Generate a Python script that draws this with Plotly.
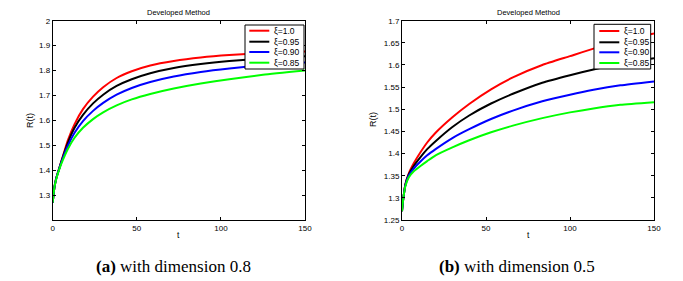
import plotly.graph_objects as go

# ---- data ----
t_a = [0, 1, 2, 4, 6, 9, 13, 18, 24, 30, 38, 47, 58, 72, 88, 105, 125, 150]
red_a = [1.27, 1.33, 1.365, 1.41, 1.455, 1.52, 1.585, 1.645, 1.695, 1.733, 1.77, 1.797, 1.82, 1.838, 1.852, 1.862, 1.870, 1.876]
black_a = [1.27, 1.33, 1.365, 1.41, 1.452, 1.51, 1.57, 1.622, 1.668, 1.703, 1.738, 1.765, 1.789, 1.81, 1.826, 1.838, 1.848, 1.857]
blue_a = [1.27, 1.33, 1.364, 1.408, 1.447, 1.498, 1.55, 1.597, 1.638, 1.670, 1.703, 1.73, 1.754, 1.776, 1.794, 1.808, 1.821, 1.832]
green_a = [1.27, 1.33, 1.362, 1.405, 1.44, 1.485, 1.53, 1.57, 1.605, 1.632, 1.66, 1.684, 1.706, 1.728, 1.748, 1.765, 1.783, 1.80]

t_b = [0, 0.5, 1, 2, 4, 7, 11, 15, 20, 30, 40, 53, 66, 83.5, 100, 114, 130, 150]
red_b = [1.27, 1.29, 1.305, 1.33, 1.355, 1.378, 1.403, 1.425, 1.447, 1.482, 1.512, 1.545, 1.572, 1.6, 1.62, 1.637, 1.654, 1.671]
black_b = [1.27, 1.29, 1.305, 1.33, 1.353, 1.372, 1.392, 1.41, 1.428, 1.46, 1.486, 1.513, 1.535, 1.56, 1.577, 1.59, 1.603, 1.615]
blue_b = [1.27, 1.29, 1.305, 1.328, 1.35, 1.366, 1.382, 1.396, 1.41, 1.435, 1.455, 1.478, 1.497, 1.518, 1.533, 1.544, 1.554, 1.563]
green_b = [1.27, 1.29, 1.305, 1.326, 1.346, 1.36, 1.372, 1.383, 1.396, 1.414, 1.43, 1.448, 1.463, 1.48, 1.493, 1.502, 1.51, 1.516]

series_names = ["ξ=1.0", "ξ=0.95", "ξ=0.90", "ξ=0.85"]
colors = ["#ff0000", "#000000", "#0000ff", "#00ff00"]

x_ticks = [0, 50, 100, 150]
ya_ticks = [1.3, 1.4, 1.5, 1.6, 1.7, 1.8, 1.9, 2.0]
ya_labels = ["1.3", "1.4", "1.5", "1.6", "1.7", "1.8", "1.9", "2"]
yb_ticks = [1.25, 1.3, 1.35, 1.4, 1.45, 1.5, 1.55, 1.6, 1.65, 1.7]
yb_labels = ["1.25", "1.3", "1.35", "1.4", "1.45", "1.5", "1.55", "1.6", "1.65", "1.7"]

title_text = "Developed Method"
captions = ["<b>(a)</b> with dimension 0.8", "<b>(b)</b> with dimension 0.5"]

# the page body has an 8px margin; size the figure so that it fits the window
OFF = 8
W, H = 683 - OFF, 281 - OFF
fig = go.Figure()

for ys, c, n in zip([red_a, black_a, blue_a, green_a], colors, series_names):
    fig.add_trace(go.Scatter(x=t_a, y=ys, mode="lines", name=n, xaxis="x", yaxis="y",
                             line=dict(color=c, width=2, shape="spline", smoothing=0.5),
                             showlegend=False))
for ys, c, n in zip([red_b, black_b, blue_b, green_b], colors, series_names):
    fig.add_trace(go.Scatter(x=t_b, y=ys, mode="lines", name=n, xaxis="x2", yaxis="y2",
                             line=dict(color=c, width=2, shape="spline", smoothing=0.5),
                             showlegend=False))

def px(x):
    return (x - OFF) / W

def py(y):
    return 1 - (y - OFF) / H

tickfont = dict(family="Liberation Sans, Arial", size=8, color="black")
common = dict(showline=True, linecolor="black", linewidth=1, mirror="ticks",
              ticks="inside", ticklen=3, tickcolor="black", tickwidth=1,
              showgrid=False, zeroline=False, tickfont=tickfont, automargin=False)

dom_y = [py(220), py(20.7)]
fig.update_layout(
    template="none",
    width=W, height=H, margin=dict(l=0, r=0, t=0, b=0, pad=0), autosize=False,
    paper_bgcolor="white", plot_bgcolor="white",
    xaxis=dict(domain=[px(52.7), px(305)], range=[0, 150], tickvals=x_ticks, anchor="y", **common),
    yaxis=dict(domain=dom_y, range=[1.2, 2.0], tickvals=ya_ticks, ticktext=ya_labels, anchor="x", **common),
    xaxis2=dict(domain=[px(402), px(654)], range=[0, 150], tickvals=x_ticks, anchor="y2", **common),
    yaxis2=dict(domain=dom_y, range=[1.25, 1.7], tickvals=yb_ticks, ticktext=yb_labels, anchor="x2", **common),
    showlegend=False,
)

ann = []
shapes = []
small = dict(family="Liberation Sans, Arial", size=8.5, color="black")
for cx, ry in [((52.7 + 305) / 2, 30), ((402 + 654) / 2, 373)]:
    ann.append(dict(x=px(cx), y=py(12.5), xref="paper", yref="paper", text=title_text,
                    xanchor="center", yanchor="middle",
                    showarrow=False, font=dict(family="Liberation Sans, Arial", size=7.5, color="black")))
    ann.append(dict(x=px(cx), y=py(235), xref="paper", yref="paper", text="t",
                    xanchor="center", yanchor="middle", showarrow=False, font=small))
    ann.append(dict(x=px(ry), y=py(120), xref="paper", yref="paper", text="R(t)", textangle=-90,
                    xanchor="center", yanchor="middle", showarrow=False,
                    font=dict(family="Liberation Sans, Arial", size=9, color="black")))

for cx, cap in zip([173, 516.6], captions):
    ann.append(dict(x=px(cx), y=py(266), xref="paper", yref="paper", text=cap, showarrow=False,
                    xanchor="center", yanchor="middle",
                    font=dict(family="Liberation Serif, Times New Roman", size=17, color="black")))

# legends (manual boxes)
legends = [
    dict(box=(245, 25, 304, 69), line=(249.3, 269.3), tx=272, rows=[30.7, 41.7, 52, 62.7]),
    dict(box=(594, 24.3, 650.7, 69), line=(599.3, 619.3), tx=622, rows=[31, 42.3, 52.3, 63]),
]
for lg in legends:
    x0, y0, x1, y1 = lg["box"]
    shapes.append(dict(type="rect", xref="paper", yref="paper", x0=px(x0), x1=px(x1), y0=py(y1), y1=py(y0),
                       line=dict(color="black", width=1), fillcolor="white", layer="above"))
    for ry, c, n in zip(lg["rows"], colors, series_names):
        shapes.append(dict(type="line", xref="paper", yref="paper", x0=px(lg["line"][0]), x1=px(lg["line"][1]),
                           y0=py(ry), y1=py(ry), line=dict(color=c, width=2), layer="above"))
        ann.append(dict(x=px(lg["tx"]), y=py(ry), xref="paper", yref="paper", text=n, xanchor="left",
                        yanchor="middle", showarrow=False,
                        font=dict(family="Liberation Sans, Arial", size=8.5, color="black")))

fig.update_layout(annotations=ann, shapes=shapes)
fig.write_html("out.html")
